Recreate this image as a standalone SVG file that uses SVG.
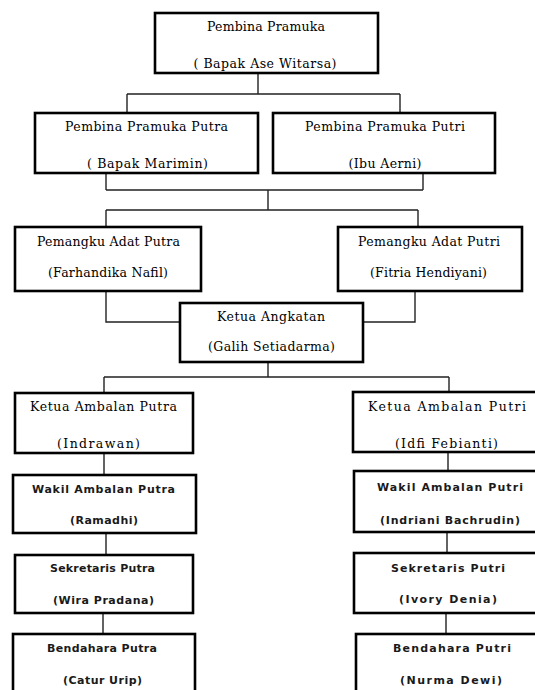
<svg xmlns="http://www.w3.org/2000/svg" width="535" height="690" viewBox="0 0 535 690">
<style>
.box{fill:#fff;stroke:#000;stroke-width:2.6}
.ln{fill:none;stroke:#222;stroke-width:1.4}
.s{font-family:"DejaVu Serif","Liberation Serif",serif;font-size:12.5px;fill:#000;text-anchor:middle}
.n{font-family:"DejaVu Sans","Liberation Sans",sans-serif;font-size:11px;font-weight:bold;fill:#1a1a1a;text-anchor:middle}
</style>
<rect width="535" height="690" fill="#fff"/>
<g id="connectors">
<path class="ln" d="M258,73V94M127,94H400M127,94V113M400,94V113"/>
<path class="ln" d="M106,173V190M423,173V190M106,190H423M268,190V210M106,210H418M106,210V227M418,210V227"/>
<path class="ln" d="M106,291V322H180M415,291V322H363"/>
<path class="ln" d="M268,362V377M104,377H449M104,377V393M449,377V392"/>
<path class="ln" d="M104,453V475M106,533V555M103,613V634"/>
<path class="ln" d="M448,452V471M447,532V553M446,613V634"/>
</g>
<g id="pembina">
<rect class="box" x="155" y="13" width="223" height="60"/>
<text class="s" x="266" y="31" textLength="118" lengthAdjust="spacing">Pembina Pramuka</text>
<text class="s" x="265" y="68" textLength="143" lengthAdjust="spacing">( Bapak Ase Witarsa)</text>
</g>
<g id="pembina-putra">
<rect class="box" x="35" y="113" width="223" height="60"/>
<text class="s" x="146.5" y="131" textLength="163" lengthAdjust="spacing">Pembina Pramuka Putra</text>
<text class="s" x="147.5" y="168" textLength="121" lengthAdjust="spacing">( Bapak Marimin)</text>
</g>
<g id="pembina-putri">
<rect class="box" x="273" y="113" width="222" height="60"/>
<text class="s" x="385" y="131" textLength="160" lengthAdjust="spacing">Pembina Pramuka Putri</text>
<text class="s" x="385" y="168" textLength="73" lengthAdjust="spacing">(Ibu Aerni)</text>
</g>
<g id="pemangku-putra">
<rect class="box" x="15" y="227" width="186" height="64"/>
<text class="s" x="108.5" y="246" textLength="143" lengthAdjust="spacing">Pemangku Adat Putra</text>
<text class="s" x="108" y="277" textLength="120" lengthAdjust="spacing">(Farhandika Nafil)</text>
</g>
<g id="pemangku-putri">
<rect class="box" x="338" y="227" width="184" height="64"/>
<text class="s" x="429" y="246" textLength="142" lengthAdjust="spacing">Pemangku Adat Putri</text>
<text class="s" x="428.5" y="277" textLength="117" lengthAdjust="spacing">(Fitria Hendiyani)</text>
</g>
<g id="ketua-angkatan">
<rect class="box" x="180" y="303" width="183" height="59"/>
<text class="s" x="271" y="321" textLength="108" lengthAdjust="spacing">Ketua Angkatan</text>
<text class="s" x="271.5" y="351" textLength="127" lengthAdjust="spacing">(Galih Setiadarma)</text>
</g>
<g id="ketua-ambalan-putra">
<rect class="box" x="15" y="393" width="178" height="60"/>
<text class="s" x="103.5" y="411" textLength="147" lengthAdjust="spacing">Ketua Ambalan  Putra</text>
<text class="s" x="98.5" y="448" textLength="83" lengthAdjust="spacing">(Indrawan)</text>
</g>
<g id="ketua-ambalan-putri">
<rect class="box" x="353" y="392" width="200" height="60"/>
<text class="s" x="447" y="411" textLength="158" lengthAdjust="spacing">Ketua Ambalan  Putri</text>
<text class="s" x="446.5" y="448" textLength="103" lengthAdjust="spacing">(Idfi Febianti)</text>
</g>
<g id="wakil-putra">
<rect class="box" x="13" y="475" width="183" height="58"/>
<text class="n" x="103.5" y="493" textLength="143" lengthAdjust="spacing">Wakil Ambalan Putra</text>
<text class="n" x="104" y="524" textLength="68" lengthAdjust="spacing">(Ramadhi)</text>
</g>
<g id="wakil-putri">
<rect class="box" x="354" y="471" width="200" height="61"/>
<text class="n" x="450" y="491" textLength="146" lengthAdjust="spacing">Wakil Ambalan Putri</text>
<text class="n" x="450" y="524" textLength="140" lengthAdjust="spacing">(Indriani Bachrudin)</text>
</g>
<g id="sekretaris-putra">
<rect class="box" x="15" y="555" width="178" height="58"/>
<text class="n" x="102.5" y="572" textLength="105" lengthAdjust="spacing">Sekretaris Putra</text>
<text class="n" x="103.5" y="604" textLength="101" lengthAdjust="spacing">(Wira Pradana)</text>
</g>
<g id="sekretaris-putri">
<rect class="box" x="354" y="553" width="200" height="60"/>
<text class="n" x="448" y="572" textLength="114" lengthAdjust="spacing">Sekretaris Putri</text>
<text class="n" x="448" y="603" textLength="98" lengthAdjust="spacing">(Ivory Denia)</text>
</g>
<g id="bendahara-putra">
<rect class="box" x="13" y="634" width="182" height="70"/>
<text class="n" x="102" y="652" textLength="110" lengthAdjust="spacing">Bendahara Putra</text>
<text class="n" x="102.5" y="684" textLength="79" lengthAdjust="spacing">(Catur Urip)</text>
</g>
<g id="bendahara-putri">
<rect class="box" x="356" y="634" width="200" height="70"/>
<text class="n" x="452" y="652" textLength="118" lengthAdjust="spacing">Bendahara Putri</text>
<text class="n" x="451" y="684" textLength="102" lengthAdjust="spacing">(Nurma Dewi)</text>
</g>
</svg>
